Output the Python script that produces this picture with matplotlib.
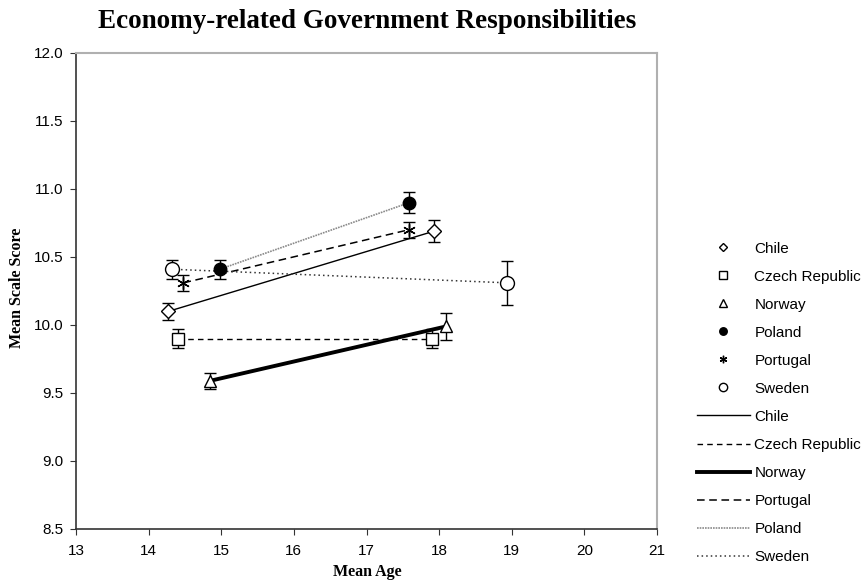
import matplotlib.pyplot as plt
from matplotlib.lines import Line2D

# mean age / mean scale score at the two measurement points, per country
countries = ['Chile', 'Czech Republic', 'Norway', 'Poland', 'Portugal', 'Sweden']
age = {'Chile': [14.27, 17.93],
       'Czech Republic': [14.41, 17.90],
       'Norway': [14.85, 18.10],
       'Poland': [14.98, 17.59],
       'Portugal': [14.48, 17.58],
       'Sweden': [14.32, 18.94]}
score = {'Chile': [10.10, 10.69],
         'Czech Republic': [9.90, 9.90],
         'Norway': [9.59, 9.99],
         'Poland': [10.41, 10.90],
         'Portugal': [10.31, 10.70],
         'Sweden': [10.41, 10.31]}
err = {'Chile': [0.06, 0.08],
       'Czech Republic': [0.07, 0.07],
       'Norway': [0.06, 0.10],
       'Poland': [0.07, 0.08],
       'Portugal': [0.06, 0.06],
       'Sweden': [0.07, 0.16]}
line_order = ['Chile', 'Czech Republic', 'Norway', 'Portugal', 'Poland', 'Sweden']

xticks = [13, 14, 15, 16, 17, 18, 19, 20, 21]
yticks = [8.5, 9.0, 9.5, 10.0, 10.5, 11.0, 11.5, 12.0]

# styles
markers = {'Chile': dict(marker='D', ms=7.5, mfc='white'),
           'Czech Republic': dict(marker='s', ms=8.5, mfc='white'),
           'Norway': dict(marker='^', ms=9, mfc='white'),
           'Poland': dict(marker='o', ms=9, mfc='black'),
           'Portugal': dict(marker=(6, 2, 0), ms=9, mfc='none'),
           'Sweden': dict(marker='o', ms=10, mfc='white')}
lines = {'Chile': dict(ls='-', lw=1.0, color='black'),
         'Czech Republic': dict(ls=(0, (4, 3)), lw=1.0, color='black'),
         'Norway': dict(ls='-', lw=2.8, color='black'),
         'Portugal': dict(ls=(0, (5, 3)), lw=1.1, color='black'),
         'Poland': dict(ls=(0, (1, 0.6)), lw=1.2, color='#8a8a8a'),
         'Sweden': dict(ls=(0, (1, 2)), lw=1.1, color='#333333')}

serif = 'Liberation Serif'
sans = 'Liberation Sans'

fig = plt.figure(figsize=(8.61, 5.82), dpi=100)
ax = fig.add_axes([76 / 861, 1 - 529 / 582, 581 / 861, 476 / 582])

for c in countries:
    ax.plot(age[c], score[c], **lines[c], zorder=2)
for c in countries:
    ax.errorbar(age[c], score[c], yerr=err[c], fmt='none', ecolor='black',
                elinewidth=1, capsize=4, capthick=1, zorder=3)
    ax.plot(age[c], score[c], ls='none', mec='black', mew=1, color='black',
            **markers[c], zorder=4)

ax.set_xlim(13, 21)
ax.set_ylim(8.5, 12.0)
ax.set_xticks(xticks)
ax.set_yticks(yticks)
ax.set_xticklabels([str(t) for t in xticks], fontfamily=sans, fontsize=11)
ax.set_yticklabels(['%.1f' % t for t in yticks], fontfamily=sans, fontsize=11)
ax.tick_params(axis='x', direction='out', length=4, pad=7, color='#333333')
ax.tick_params(axis='y', direction='out', length=4, pad=5, color='#333333')

for s in ['left', 'bottom']:
    ax.spines[s].set_color('#333333')
    ax.spines[s].set_linewidth(1.2)
for s in ['top', 'right']:
    ax.spines[s].set_color('#b0b0b0')
    ax.spines[s].set_linewidth(1.5)

fig.text(367 / 861, 1 - 21 / 582, 'Economy-related Government Responsibilities',
         ha='center', va='center', fontfamily=serif, fontweight='bold', fontsize=19.5)
fig.text(367 / 861, 1 - 572 / 582, 'Mean Age', ha='center', va='center',
         fontfamily=serif, fontweight='bold', fontsize=11.5)
fig.text(17 / 861, 1 - 288 / 582, 'Mean Scale Score', ha='center', va='center',
         rotation=90, fontfamily=serif, fontweight='bold', fontsize=11.5)

# legend: marker entries then line entries
handles = []
labels = []
for c in countries:
    m = dict(markers[c])
    m['ms'] = m['ms'] * 0.6
    handles.append(Line2D([], [], ls='none', mec='black', mew=1, color='black', **m))
    labels.append(c)
for c in line_order:
    handles.append(Line2D([], [], **lines[c]))
    labels.append(c)

leg = fig.legend(handles, labels, loc='upper left',
                 bbox_to_anchor=(697 / 861, 1 - 241.5 / 582),
                 frameon=False, prop={'family': sans, 'size': 11},
                 handlelength=3.45, handletextpad=0.3, labelspacing=0.92,
                 borderpad=0, borderaxespad=0)

fig.savefig('out.png', dpi=100)
